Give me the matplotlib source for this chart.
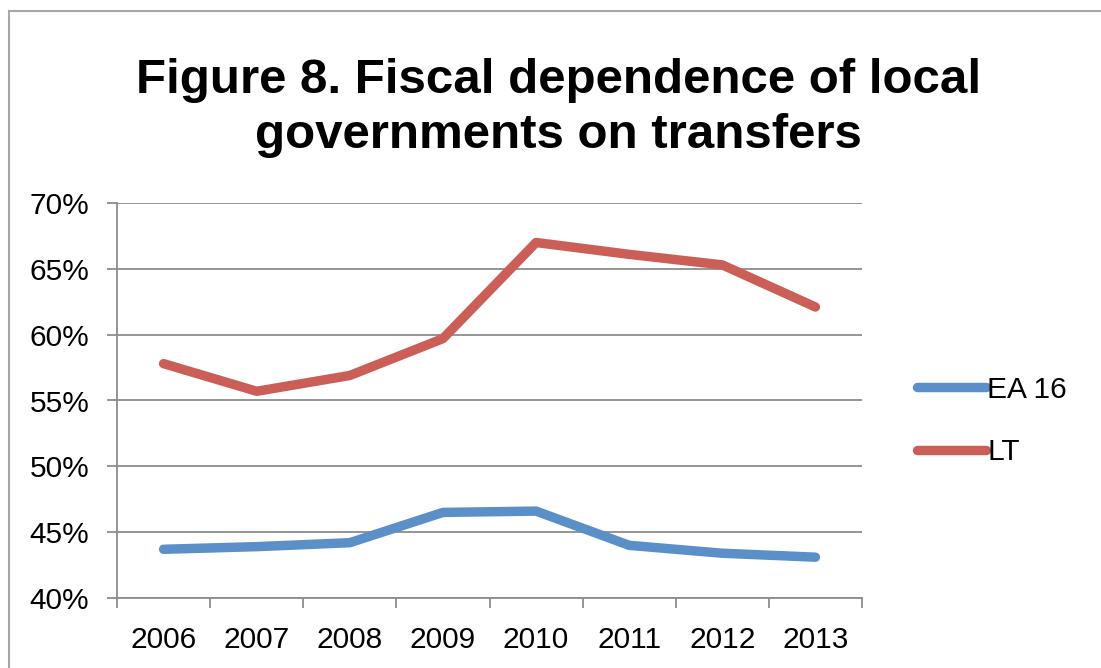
import numpy as np
import matplotlib.pyplot as plt
from matplotlib.patches import Rectangle

# Данные
years = ['2006', '2007', '2008', '2009', '2010', '2011', '2012', '2013']
ea16 = [43.7, 43.9, 44.2, 46.5, 46.6, 44.0, 43.4, 43.1]
lt = [57.8, 55.7, 56.9, 59.7, 67.0, 66.1, 65.3, 62.1]

plt.rcParams['font.family'] = ['Liberation Sans', 'DejaVu Sans']

fig = plt.figure(figsize=(11.01, 6.68), dpi=100)
ax = fig.add_axes([117 / 1101, 1 - 598 / 668, (862 - 117) / 1101, (598 - 203) / 668])

# рамка диаграммы
fig.patches.append(Rectangle((9 / 1101, -0.1), 1.2, 1 - 11 / 668 + 0.1,
                             transform=fig.transFigure, fill=False,
                             edgecolor='#A6A6A6', linewidth=1.5))

x = np.arange(len(years))
ax.plot(x, ea16, color='#5A8FC8', linewidth=6.8, solid_capstyle='round',
        solid_joinstyle='round', label='EA 16')
ax.plot(x, lt, color='#CB5F58', linewidth=6.8, solid_capstyle='round',
        solid_joinstyle='round', label='LT')

ax.set_xlim(-0.5, len(years) - 0.5)
ax.set_ylim(40, 70)
ax.set_yticks(np.arange(40, 71, 5))
ax.set_yticklabels([f'{v}%' for v in range(40, 71, 5)])
ax.yaxis.grid(True, color='#8C8C8C', linewidth=1.3)
ax.set_axisbelow(True)

# деления между категориями, подписи по центру
ax.set_xticks(np.arange(-0.5, len(years), 1))
ax.set_xticklabels([])
ax.set_xticks(x, minor=True)
ax.set_xticklabels(years, minor=True)
ax.tick_params(axis='x', which='major', length=7, width=1.3, color='#8C8C8C')
ax.tick_params(axis='x', which='minor', length=0, pad=20, labelsize=21.5)
ax.tick_params(axis='y', length=7, width=1.3, color='#8C8C8C', pad=13, labelsize=21.5)

for s in ['top', 'right']:
    ax.spines[s].set_visible(False)
for s in ['left', 'bottom']:
    ax.spines[s].set_color('#8C8C8C')
    ax.spines[s].set_linewidth(1.3)

fig.text(0.507, 1 - 58 / 668,
         'Figure 8. Fiscal dependence of local\ngovernments on transfers',
         ha='center', va='top', fontsize=35.5, fontweight='bold', linespacing=1.28)

fig.legend(loc='center left', bbox_to_anchor=(890 / 1101, 1 - 421 / 668),
           frameon=False, fontsize=21.5, handlelength=2.3, handletextpad=0.05,
           labelspacing=1.15)

plt.savefig('out.png', dpi=100)
